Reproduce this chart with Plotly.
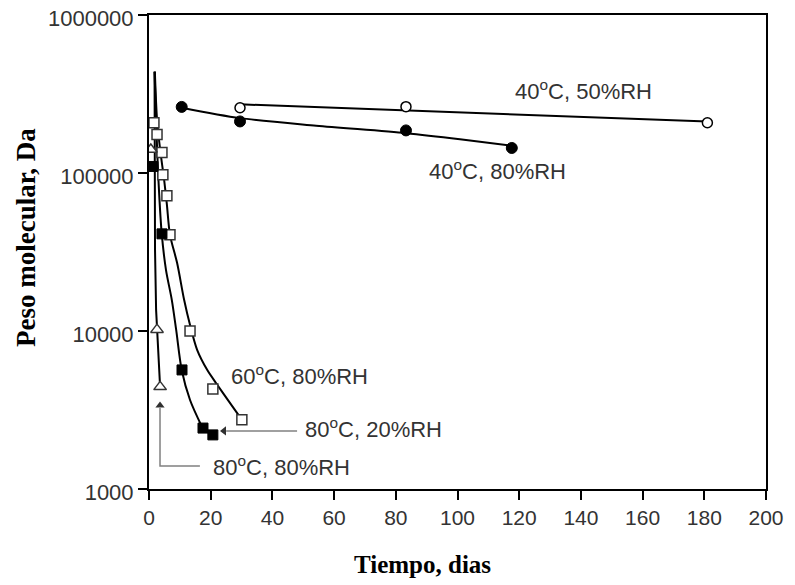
import math
import plotly.graph_objects as go

# ---------------- data ----------------
# 40 C, 50 %RH (open circles) and its fitted line
t_40_50 = [29.5, 83.3, 181]
mw_40_50 = [259000, 263000, 208000]
t_40_50_fit = [29.5, 181]
mw_40_50_fit = [272000, 212000]

# 40 C, 80 %RH (filled circles) and its fitted curve
t_40_80 = [10.6, 29.5, 83.3, 117.6]
mw_40_80 = [262000, 212000, 186000, 144000]
t_40_80_fit = [10.6, 29.5, 54.2, 83.3, 100.8, 117.6]
mw_40_80_fit = [259000, 222500, 199400, 178800, 163800, 148900]

# 60 C, 80 %RH (open squares) and its fitted curve
t_60_80 = [1.6, 2.6, 4.2, 4.5, 5.8, 6.8, 13.3, 20.7, 30.1]
mw_60_80 = [208000, 175000, 135000, 97500, 71800, 40600, 10000, 4290, 2740]
t_60_80_fit = [1.9, 2.6, 3.6, 4.9, 5.8, 6.8, 9.1, 11.4, 13.3, 15.6, 18.8, 22.0, 25.6, 29.5]
mw_60_80_fit = [438000, 218000, 141000, 90800, 63000, 40600, 27000, 15700, 10900,
                7600, 5700, 4600, 3650, 2850]

# 80 C, 20 %RH (filled squares) and its fitted curve
t_80_20 = [1.3, 4.2, 10.7, 17.5, 20.7]
mw_80_20 = [110000, 41200, 5670, 2430, 2200]
t_80_20_fit = [1.8, 2.3, 2.9, 4.1, 5.5, 7.4, 8.8, 10.6, 13.3, 17.2]
mw_80_20_fit = [438000, 218000, 105000, 41900, 24400, 15700, 10200, 5670, 3660, 2470]

# 80 C, 80 %RH (open triangles) and its fitted curve
t_80_80 = [0.6, 2.6, 3.6]
mw_80_80 = [141000, 10200, 4430]
t_80_80_fit = [1.8, 1.85, 1.95, 2.3, 2.6, 3.6]
mw_80_80_fit = [438000, 141000, 32700, 13600, 10200, 4430]

# axes
x_ticks = [0, 20, 40, 60, 80, 100, 120, 140, 160, 180, 200]
y_ticks = [1000, 10000, 100000, 1000000]
y_tick_labels = ["1000", "10000", "100000", "1000000"]

# series labels (text, x position in days, y position in Da)
label_texts = ["40<sup>o</sup>C, 50%RH", "40<sup>o</sup>C, 80%RH", "60<sup>o</sup>C, 80%RH",
               "80<sup>o</sup>C, 20%RH", "80<sup>o</sup>C, 80%RH"]
label_x = [118.0, 90.1, 26.0, 49.9, 20.1]
label_y = [335000, 104000, 5300, 2450, 1400]

# pointer arrows (line points, head position)
arrow20_x = [48.0, 25.0]
arrow20_y = [2330, 2330]
arrow20_head = (24.3, 2330)
arrow80_x = [16.5, 3.57, 3.57]
arrow80_y = [1400, 1400, 3250]
arrow80_head = (3.57, 3380)

# ---------------- figure ----------------
fig = go.Figure()

curve_style = dict(mode="lines", line=dict(color="black", width=2, shape="spline", smoothing=0.8),
                   hoverinfo="skip", showlegend=False)
fig.add_trace(go.Scatter(x=t_40_50_fit, y=mw_40_50_fit, mode="lines",
                         line=dict(color="black", width=2), hoverinfo="skip", showlegend=False))
fig.add_trace(go.Scatter(x=t_40_80_fit, y=mw_40_80_fit, **curve_style))
fig.add_trace(go.Scatter(x=t_60_80_fit, y=mw_60_80_fit, **curve_style))
fig.add_trace(go.Scatter(x=t_80_20_fit, y=mw_80_20_fit, **curve_style))
fig.add_trace(go.Scatter(x=t_80_80_fit, y=mw_80_80_fit, mode="lines",
                         line=dict(color="black", width=2), hoverinfo="skip", showlegend=False))

# pointer lines and heads
arrow_color = "#808080"
fig.add_trace(go.Scatter(x=arrow20_x, y=arrow20_y, mode="lines",
                         line=dict(color=arrow_color, width=1.5), hoverinfo="skip", showlegend=False))
fig.add_trace(go.Scatter(x=[arrow20_head[0]], y=[arrow20_head[1]], mode="markers",
                         marker=dict(symbol="triangle-left", size=8, color="#303030"),
                         hoverinfo="skip", showlegend=False))
fig.add_trace(go.Scatter(x=arrow80_x, y=arrow80_y, mode="lines",
                         line=dict(color=arrow_color, width=1.5), hoverinfo="skip", showlegend=False))
fig.add_trace(go.Scatter(x=[arrow80_head[0]], y=[arrow80_head[1]], mode="markers",
                         marker=dict(symbol="triangle-up", size=8, color="#303030"),
                         hoverinfo="skip", showlegend=False))

fig.add_trace(go.Scatter(x=t_40_50, y=mw_40_50, mode="markers", name="40C 50%RH",
                         marker=dict(symbol="circle", size=10, color="white",
                                     line=dict(color="black", width=1.5))))
fig.add_trace(go.Scatter(x=t_40_80, y=mw_40_80, mode="markers", name="40C 80%RH",
                         marker=dict(symbol="circle", size=11, color="black",
                                     line=dict(color="black", width=1))))
fig.add_trace(go.Scatter(x=t_60_80, y=mw_60_80, mode="markers", name="60C 80%RH",
                         marker=dict(symbol="square", size=10, color="white",
                                     line=dict(color="#333333", width=1.5))))
fig.add_trace(go.Scatter(x=t_80_20, y=mw_80_20, mode="markers", name="80C 20%RH",
                         marker=dict(symbol="square", size=10, color="black",
                                     line=dict(color="black", width=1))))
fig.add_trace(go.Scatter(x=t_80_80, y=mw_80_80, mode="markers", name="80C 80%RH",
                         marker=dict(symbol="triangle-up", size=11, color="white",
                                     line=dict(color="#333333", width=1.5))))

annotations = []
for txt, lx, ly in zip(label_texts, label_x, label_y):
    annotations.append(dict(x=lx, y=math.log10(ly), xref="x", yref="y", text=txt,
                            showarrow=False, xanchor="left", yanchor="middle",
                            font=dict(family="Liberation Sans, Arial, sans-serif",
                                      size=22, color="#333333")))
# axis titles
annotations.append(dict(x=-0.199, y=0.53, xref="paper", yref="paper",
                        xanchor="center", yanchor="middle",
                        text="Peso molecular, Da", textangle=-90, showarrow=False,
                        font=dict(family="Liberation Serif, Times New Roman, serif",
                                  size=27, color="black", weight="bold")))
annotations.append(dict(x=0.4425, y=-0.16, xref="paper", yref="paper",
                        xanchor="center", yanchor="middle",
                        text="Tiempo, dias", showarrow=False,
                        font=dict(family="Liberation Serif, Times New Roman, serif",
                                  size=25, color="black", weight="bold")))

x_tick_font = dict(family="Liberation Sans, Arial, sans-serif", size=21, color="#333333")
y_tick_font = dict(family="Liberation Sans, Arial, sans-serif", size=22, color="#333333")
fig.update_layout(
    width=787, height=577,
    margin=dict(l=141, r=29, t=7, b=96, autoexpand=False),
    paper_bgcolor="white", plot_bgcolor="white",
    showlegend=False,
    annotations=annotations,
    xaxis=dict(range=[0, 200], tickvals=x_ticks, ticks="outside", ticklen=9, tickwidth=1.5,
               tickcolor="black", showline=True, linecolor="black", linewidth=2,
               mirror=True, showgrid=False, zeroline=False, tickfont=x_tick_font,
               automargin=False, ticklabeloverflow="allow"),
    yaxis=dict(type="log", range=[3, 6], tickvals=y_ticks, ticktext=y_tick_labels,
               ticks="outside", ticklen=9, tickwidth=1.5, tickcolor="black",
               showline=True, linecolor="black", linewidth=2, mirror=True,
               showgrid=False, zeroline=False, tickfont=y_tick_font, automargin=False,
               ticklabeloverflow="allow", ticklabelshift=3),
)

fig.write_html("out.html")
